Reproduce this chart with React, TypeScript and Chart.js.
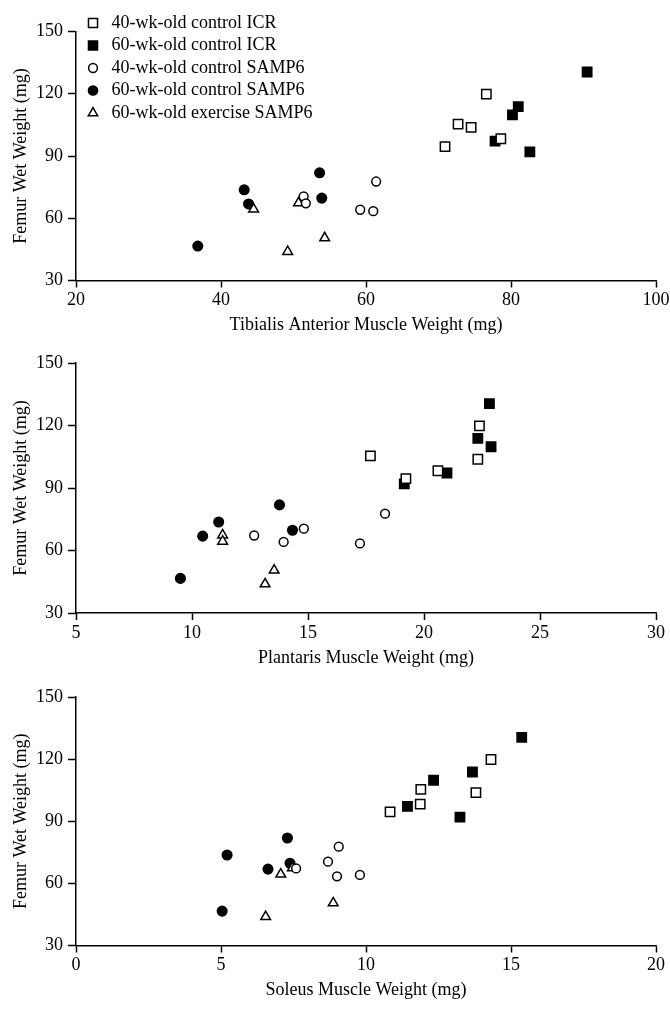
import React, { useEffect, useRef } from "react";
import { Chart, registerables } from "chart.js";
import { drawPoint } from "chart.js/helpers";

Chart.register(...registerables);

// ---- categories ----
const groupLabels = [
  "40-wk-old control ICR",
  "60-wk-old control ICR",
  "40-wk-old control SAMP6",
  "60-wk-old control SAMP6",
  "60-wk-old exercise SAMP6",
];

// ---- femur wet weight (mg), one value per animal ----
const femurICR40 = [119.8, 105.4, 103.8, 98.3, 94.5];
const femurICR60 = [130.5, 113.8, 109.8, 97.2, 92.0];
const femurSAMP40 = [77.7, 70.5, 67.2, 64.1, 63.4];
const femurSAMP60 = [81.9, 73.7, 69.7, 66.9, 46.6];
const femurEx60 = [67.4, 64.4, 50.5, 43.9];

// ---- tibialis anterior muscle weight (mg) ----
const taICR40 = [76.6, 72.7, 74.5, 78.6, 70.9];
const taICR60 = [90.5, 81.0, 80.2, 77.8, 82.6];
const taSAMP40 = [61.4, 51.4, 51.7, 59.2, 61.0];
const taSAMP60 = [53.6, 43.2, 53.9, 43.8, 36.8];
const taEx60 = [50.7, 44.5, 54.3, 49.2];

// ---- plantaris muscle weight (mg) ----
const plICR40 = [22.39, 17.69, 22.32, 20.6, 19.22];
const plICR60 = [22.82, 22.32, 22.89, 20.99, 19.15];
const plSAMP40 = [18.32, 14.82, 12.68, 13.95, 17.24];
const plSAMP60 = [13.77, 11.15, 14.33, 10.46, 9.5];
const plEx60 = [11.32, 11.32, 13.54, 13.15];

// ---- soleus muscle weight (mg) ----
const soICR40 = [14.31, 11.89, 13.79, 11.87, 10.83];
const soICR60 = [15.37, 13.67, 12.33, 11.43, 13.24];
const soSAMP40 = [9.06, 8.69, 7.59, 9.79, 9.0];
const soSAMP60 = [7.29, 5.21, 7.38, 6.62, 5.04];
const soEx60 = [7.46, 7.06, 8.87, 6.54];

// ---- tick labels ----
const yTicks = [30, 60, 90, 120, 150];
const taTicks = [20, 40, 60, 80, 100];
const plTicks = [5, 10, 15, 20, 25, 30];
const soTicks = [0, 5, 10, 15, 20];

const yTitle = "Femur Wet Weight (mg)";
const femurGroups = [femurICR40, femurICR60, femurSAMP40, femurSAMP60, femurEx60];

const FONT = '"Liberation Serif", "Times New Roman", serif';
Chart.defaults.font.family = FONT;
Chart.defaults.font.size = 18;
Chart.defaults.color = "#000";

const groupStyles = [
  { style: "rect", fill: "#fff", radius: 6.6, legendRadius: 6.4, order: 4 },
  { style: "rect", fill: "#000", radius: 6.6, legendRadius: 6.4, order: 5 },
  { style: "circle", fill: "#fff", radius: 4.4, legendRadius: 4.4, order: 1 },
  { style: "circle", fill: "#000", radius: 4.8, legendRadius: 4.6, order: 3 },
  { style: "triangle", fill: "#fff", radius: 5.6, legendRadius: 5.4, order: 2 },
];

const legendPlugin = {
  id: "customLegend",
  afterDraw(chart: any) {
    const ctx = chart.ctx;
    ctx.save();
    ctx.font = `18px ${FONT}`;
    ctx.textBaseline = "middle";
    groupLabels.forEach((label, i) => {
      const y = 23 + i * 22.5;
      const st = groupStyles[i];
      ctx.fillStyle = st.fill;
      ctx.strokeStyle = "#000";
      ctx.lineWidth = 1.5;
      drawPoint(ctx, { pointStyle: st.style, radius: st.legendRadius, borderWidth: 1.5, rotation: 0 } as any, 93, y);
      ctx.fillStyle = "#000";
      ctx.fillText(label, 111.5, y);
    });
    ctx.restore();
  },
};

type PanelCfg = {
  top: number;
  height: number;
  areaTop: number;
  areaBottom: number;
  xs: number[][];
  xTicks: number[];
  xTitle: string;
  legend: boolean;
};

const X_BOX = 56;

const panels: PanelCfg[] = [
  {
    top: 0, height: 345, areaTop: 31.5, areaBottom: 280.5,
    xs: [taICR40, taICR60, taSAMP40, taSAMP60, taEx60],
    xTicks: taTicks, xTitle: "Tibialis Anterior Muscle Weight (mg)", legend: true,
  },
  {
    top: 345, height: 330, areaTop: 18, areaBottom: 268,
    xs: [plICR40, plICR60, plSAMP40, plSAMP60, plEx60],
    xTicks: plTicks, xTitle: "Plantaris Muscle Weight (mg)", legend: false,
  },
  {
    top: 675, height: 335, areaTop: 22, areaBottom: 270.5,
    xs: [soICR40, soICR60, soSAMP40, soSAMP60, soEx60],
    xTicks: soTicks, xTitle: "Soleus Muscle Weight (mg)", legend: false,
  },
];

function Panel({ cfg }: { cfg: PanelCfg }) {
  const ref = useRef<HTMLCanvasElement>(null);
  useEffect(() => {
    const datasets = groupLabels.map((label, i) => ({
      label,
      data: cfg.xs[i].map((x, j) => ({ x, y: femurGroups[i][j] })),
      pointStyle: groupStyles[i].style as any,
      pointRadius: groupStyles[i].radius,
      pointHoverRadius: groupStyles[i].radius,
      pointBackgroundColor: groupStyles[i].fill,
      pointBorderColor: "#000",
      pointBorderWidth: 1.5,
      showLine: false,
      order: groupStyles[i].order,
    }));
    const padB = cfg.height - cfg.areaBottom - X_BOX;
    const chart = new Chart(ref.current!, {
      type: "scatter",
      data: { datasets },
      options: {
        animation: false,
        responsive: false,
        maintainAspectRatio: false,
        events: [],
        layout: { padding: { top: cfg.areaTop, left: 0, right: 14, bottom: padB } },
        plugins: { legend: { display: false }, tooltip: { enabled: false } },
        scales: {
          x: {
            type: "linear",
            min: cfg.xTicks[0],
            max: cfg.xTicks[cfg.xTicks.length - 1],
            afterBuildTicks: (s: any) => {
              s.ticks = cfg.xTicks.map((v) => ({ value: v }));
            },
            afterFit: (s: any) => {
              s.height = X_BOX;
              s.paddingLeft = 0;
              s.paddingRight = 0;
            },
            ticks: { padding: 2, color: "#000", font: { size: 18 }, maxRotation: 0, autoSkip: false },
            grid: { display: true, drawOnChartArea: false, drawTicks: true, tickLength: 7, tickWidth: 1.5, tickColor: "#000" },
            border: { display: true, color: "#000", width: 1.5 },
            title: { display: true, text: cfg.xTitle, color: "#000", font: { size: 18 }, padding: { top: 0, bottom: 0 } },
          },
          y: {
            type: "linear",
            min: yTicks[0],
            max: yTicks[yTicks.length - 1],
            afterBuildTicks: (s: any) => {
              s.ticks = yTicks.map((v) => ({ value: v }));
            },
            afterFit: (s: any) => {
              s.width = 76;
              s.paddingTop = 0;
              s.paddingBottom = 0;
            },
            ticks: { padding: 5, color: "#000", font: { size: 18 }, autoSkip: false },
            grid: { display: true, drawOnChartArea: false, drawTicks: true, tickLength: 8, tickWidth: 1.5, tickColor: "#000" },
            border: { display: true, color: "#000", width: 1.5 },
            title: { display: true, text: yTitle, color: "#000", font: { size: 18 }, padding: { top: 10, bottom: 0 } },
          },
        },
      },
      plugins: cfg.legend ? [legendPlugin] : [],
    });
    return () => chart.destroy();
  }, []);
  return (
    <canvas
      ref={ref}
      width={670}
      height={cfg.height}
      style={{ position: "absolute", left: 0, top: cfg.top, width: 670, height: cfg.height, display: "block" }}
    />
  );
}

export default function App() {
  return (
    <div style={{ position: "absolute", left: 0, top: 0, width: 670, height: 1010, background: "#fff" }}>
      {panels.map((p, i) => (
        <Panel key={i} cfg={p} />
      ))}
    </div>
  );
}
